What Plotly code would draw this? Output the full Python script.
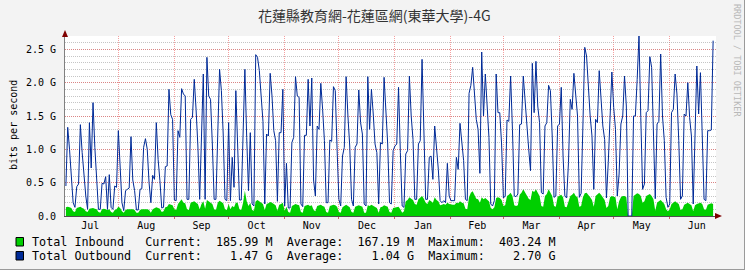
import pandas as pd
import plotly.graph_objects as go

# ---------------- data (daily averages, Gbit/s) ----------------
start_date = "2023-07-03"

outbound_gbps = [
    0.45, 1.33, 1.0, 0.6, 0.2, 0.13, 0.44, 0.48, 1.37,
    0.95, 0.6, 0.3, 0.1, 1.4, 0.72, 1.7, 1.03, 0.55, 0.1,
    0.1, 0.49, 0.48, 0.59, 0.1, 0.62, 0.13, 0.1, 0.45, 0.43,
    1.28, 0.8, 0.2, 0.08, 0.38, 0.4, 0.42, 1.19, 0.54, 0.38,
    0.09, 0.09, 0.4, 0.41, 1.03, 1.16, 1.0, 0.5, 0.2, 0.61,
    0.55, 1.4, 0.85, 0.53, 0.12, 0.13, 0.74, 0.75, 1.9, 1.52,
    1.45, 0.24, 0.23, 1.28, 1.18, 1.91, 1.83, 1.8, 0.25, 0.25,
    1.45, 1.48, 2.05, 1.6, 1.05, 0.25, 1.05, 2.13, 0.25, 2.38,
    1.8, 1.75, 1.08, 0.25, 0.25, 1.38, 2.2, 1.88, 1.23, 0.25,
    0.23, 1.4, 0.23, 0.88, 0.43, 1.88, 1.2, 0.24, 0.24, 1.45,
    2.2, 1.18, 0.38, 1.25, 0.18, 0.15, 2.42, 2.38, 2.18, 1.8,
    1.42, 0.18, 1.23, 1.2, 2.14, 1.8, 1.28, 1.13, 0.22, 1.25,
    1.25, 1.9, 0.15, 0.79, 0.12, 0.12, 1.1, 1.18, 2.09, 1.8,
    1.78, 0.18, 0.14, 1.21, 1.21, 2.05, 1.35, 2.07, 0.54, 0.3,
    1.35, 1.3, 1.99, 1.6, 1.13, 0.2, 0.2, 1.14, 1.12, 1.94,
    1.88, 1.0, 0.25, 0.15, 0.9, 1.03, 2.09, 1.5, 1.05, 0.25,
    0.15, 1.03, 1.08, 1.89, 1.4, 1.23, 0.18, 0.15, 2.09, 1.3,
    1.9, 1.53, 1.08, 0.95, 0.18, 1.1, 1.08, 2.08, 1.5, 1.08,
    0.2, 0.18, 0.98, 1.05, 1.08, 1.93, 0.95, 0.15, 0.13, 0.93,
    0.98, 2.1, 1.5, 1.15, 0.25, 0.25, 1.08, 1.13, 2.35, 1.4,
    0.25, 0.25, 0.88, 0.9, 0.55, 1.35, 1.03, 0.7, 0.23, 0.2,
    0.23, 0.2, 0.79, 0.3, 0.23, 0.23, 0.23, 0.88, 0.7, 1.39,
    1.08, 0.83, 0.25, 0.23, 1.84, 1.96, 2.23, 1.83, 1.45, 1.3,
    0.64, 2.46, 1.5, 2.13, 1.68, 1.18, 0.18, 0.15, 0.23, 2.13,
    1.55, 1.55, 1.08, 0.27, 0.3, 1.44, 1.42, 2.1, 1.3, 0.3,
    0.29, 0.33, 1.37, 1.38, 2.1, 1.7, 1.4, 1.0, 0.68, 2.29,
    1.55, 2.32, 1.65, 1.4, 0.35, 0.33, 1.35, 1.4, 1.96, 1.88,
    1.2, 0.28, 0.3, 1.35, 1.38, 1.93, 0.9, 0.3, 0.27, 0.8,
    1.75, 1.6, 2.14, 1.78, 1.5, 0.28, 0.34, 1.38, 2.53, 2.4,
    1.93, 1.5, 1.2, 0.4, 1.45, 1.4, 2.18, 1.8, 1.35, 1.15,
    0.27, 0.8, 1.4, 2.16, 1.63, 1.3, 0.3, 0.63, 1.38, 1.5,
    2.1, 1.65, 0.0, 0.0, 0.0, 1.5, 1.5, 2.05, 2.7, 1.48,
    0.4, 0.48, 1.55, 1.58, 2.39, 2.23, 1.0, 0.26, 1.38, 1.42,
    2.43, 1.5, 1.13, 0.28, 0.13, 0.18, 1.55, 1.6, 2.13, 1.83,
    1.13, 0.25, 0.3, 1.53, 1.5, 2.0, 1.48, 1.2, 0.18, 1.3,
    2.25, 1.53, 2.15, 1.2, 0.25, 0.23, 1.28, 1.28, 1.29, 2.63,
]

inbound_gbps = [
    0.13, 0.14, 0.13, 0.12, 0.07, 0.06, 0.12, 0.13, 0.14,
    0.12, 0.11, 0.07, 0.06, 0.11, 0.12, 0.12, 0.11, 0.10, 0.06,
    0.05, 0.10, 0.11, 0.10, 0.09, 0.10, 0.06, 0.05, 0.09, 0.10,
    0.14, 0.12, 0.07, 0.05, 0.09, 0.10, 0.10, 0.11, 0.10, 0.09,
    0.05, 0.05, 0.09, 0.10, 0.10, 0.11, 0.10, 0.09, 0.05, 0.10,
    0.12, 0.13, 0.12, 0.11, 0.06, 0.07, 0.13, 0.14, 0.18, 0.17,
    0.16, 0.10, 0.09, 0.18, 0.22, 0.25, 0.20, 0.19, 0.10, 0.09,
    0.20, 0.21, 0.22, 0.20, 0.18, 0.10, 0.18, 0.22, 0.11, 0.24,
    0.22, 0.20, 0.18, 0.10, 0.09, 0.20, 0.23, 0.21, 0.19, 0.10,
    0.09, 0.18, 0.10, 0.15, 0.13, 0.20, 0.20, 0.10, 0.09, 0.20,
    0.38, 0.22, 0.15, 0.20, 0.09, 0.08, 0.22, 0.24, 0.22, 0.20,
    0.18, 0.09, 0.18, 0.19, 0.21, 0.20, 0.18, 0.16, 0.08, 0.17,
    0.18, 0.20, 0.08, 0.14, 0.06, 0.05, 0.15, 0.16, 0.18, 0.17,
    0.16, 0.06, 0.05, 0.15, 0.16, 0.17, 0.15, 0.16, 0.09, 0.07,
    0.15, 0.16, 0.17, 0.15, 0.14, 0.06, 0.05, 0.15, 0.16, 0.17,
    0.16, 0.14, 0.06, 0.05, 0.13, 0.15, 0.17, 0.15, 0.13, 0.06,
    0.05, 0.14, 0.15, 0.16, 0.15, 0.14, 0.05, 0.05, 0.16, 0.15,
    0.17, 0.15, 0.14, 0.12, 0.05, 0.13, 0.14, 0.16, 0.15, 0.14,
    0.06, 0.05, 0.12, 0.13, 0.13, 0.14, 0.10, 0.05, 0.07, 0.22,
    0.24, 0.28, 0.26, 0.24, 0.18, 0.17, 0.25, 0.27, 0.30, 0.26,
    0.20, 0.18, 0.24, 0.22, 0.20, 0.28, 0.24, 0.22, 0.16, 0.17,
    0.18, 0.17, 0.20, 0.18, 0.17, 0.17, 0.17, 0.20, 0.19, 0.22,
    0.20, 0.19, 0.11, 0.10, 0.28, 0.35, 0.37, 0.30, 0.26, 0.25,
    0.20, 0.28, 0.25, 0.27, 0.25, 0.22, 0.12, 0.10, 0.13, 0.27,
    0.28, 0.27, 0.24, 0.15, 0.16, 0.30, 0.32, 0.35, 0.30, 0.16,
    0.15, 0.16, 0.32, 0.35, 0.40, 0.36, 0.30, 0.26, 0.24, 0.38,
    0.36, 0.40, 0.35, 0.30, 0.15, 0.14, 0.30, 0.33, 0.40, 0.35,
    0.30, 0.15, 0.14, 0.29, 0.30, 0.32, 0.28, 0.14, 0.13, 0.22,
    0.30, 0.32, 0.35, 0.30, 0.28, 0.14, 0.15, 0.28, 0.34, 0.35,
    0.32, 0.28, 0.24, 0.14, 0.30, 0.33, 0.35, 0.32, 0.28, 0.24,
    0.12, 0.15, 0.28, 0.30, 0.29, 0.28, 0.10, 0.22, 0.28, 0.30,
    0.30, 0.28, 0.0, 0.0, 0.0, 0.30, 0.32, 0.34, 0.33, 0.30,
    0.20, 0.22, 0.30, 0.32, 0.33, 0.30, 0.25, 0.08, 0.20, 0.22,
    0.24, 0.21, 0.18, 0.10, 0.07, 0.10, 0.18, 0.20, 0.22, 0.20,
    0.18, 0.09, 0.10, 0.17, 0.19, 0.20, 0.18, 0.16, 0.07, 0.16,
    0.18, 0.19, 0.20, 0.18, 0.10, 0.09, 0.17, 0.18, 0.19, 0.18,
]

y_tick_values = [0.0, 0.5, 1.0, 1.5, 2.0, 2.5]
y_tick_labels = ["0.0", "0.5 G", "1.0 G", "1.5 G", "2.0 G", "2.5 G"]
month_labels = ["Jul", "Aug", "Sep", "Oct", "Nov", "Dec",
                "Jan", "Feb", "Mar", "Apr", "May", "Jun"]

title_text = "花蓮縣教育網-花蓮區網(東華大學)-4G"
legend_rows = [
    ("Total Inbound", "185.99 M", "167.19 M", "403.24 M", "#00CF00"),
    ("Total Outbound", "1.47 G", "1.04 G", "2.70 G", "#002A97"),
]

# ---------------- figure ----------------
dates = pd.date_range(start_date, periods=len(outbound_gbps), freq="D")

W, H = 745, 270
L, R, T, B = 65, 29, 36, 54
PW, PH = W - L - R, H - T - B


def px(x):
    return (x - L) / PW


def py(y):
    return (H - B - y) / PH


fig = go.Figure()
fig.add_trace(go.Scatter(
    x=dates, y=inbound_gbps, mode="lines", fill="tozeroy",
    line=dict(width=0, color="#00CF00"), fillcolor="#00CF00",
    hoverinfo="skip", showlegend=False))
fig.add_trace(go.Scatter(
    x=dates, y=outbound_gbps, mode="lines",
    line=dict(width=1, color="#002A97"),
    hoverinfo="skip", showlegend=False))

month_starts = pd.date_range("2023-07-01", "2024-07-01", freq="MS")
mid_months = [s + (e - s) / 2 for s, e in zip(month_starts[:-1], month_starts[1:])]

x_range = [pd.Timestamp("2023-07-01") + pd.Timedelta(days=1.5),
           pd.Timestamp("2023-07-01") + pd.Timedelta(days=361.6)]

mono = "DejaVu Sans Mono"

fig.update_xaxes(
    type="date", range=x_range,
    tickmode="array", tickvals=mid_months, ticktext=month_labels,
    ticks="", showgrid=False, zeroline=False,
    tickfont=dict(family=mono, size=10, color="#000000"),
    showline=True, linecolor="#505050", linewidth=1,
    minor=dict(tickmode="array", tickvals=list(month_starts[1:-1]),
               showgrid=True, gridcolor="rgba(235,80,80,0.55)",
               griddash="1px,1px", gridwidth=1,
               ticks="outside", ticklen=2, tickcolor="rgba(200,60,60,0.8)"),
)
fig.update_yaxes(
    range=[0, 2.7], tickmode="array", tickvals=y_tick_values, ticktext=y_tick_labels,
    ticks="", showgrid=True, gridcolor="rgba(235,80,80,0.55)", griddash="1px,1px",
    gridwidth=1, zeroline=False,
    tickfont=dict(family=mono, size=10, color="#000000"),
    ticklabelstandoff=6,
    showline=True, linecolor="#808080", linewidth=1,
    minor=dict(dtick=0.1, tick0=0, showgrid=True,
               gridcolor="rgba(150,150,150,0.55)", griddash="1px,1px", gridwidth=1),
)

annotations = [
    dict(text=title_text, x=px(W / 2 + 2), y=py(15), xref="paper", yref="paper",
         showarrow=False, xanchor="center", yanchor="middle",
         font=dict(family="Noto Sans CJK TC", size=14, color="#333333")),
    dict(text="bits per second", x=px(13), y=py(125), xref="paper", yref="paper",
         showarrow=False, textangle=-90, xanchor="center", yanchor="middle",
         font=dict(family=mono, size=10, color="#000000")),
    dict(text="RRDTOOL / TOBI OETIKER", x=px(737), y=py(60), xref="paper", yref="paper",
         showarrow=False, textangle=90, xanchor="center", yanchor="middle",
         font=dict(family=mono, size=8.5, color="#B8B8B8")),
]

nb = "\u00a0"
shapes = []
row_y = [242, 256]
for (name, cur, avg, mx, col), yy in zip(legend_rows, row_y):
    line = (f"{name:<16}Current:{cur:>10}  Average:{avg:>10}  Maximum:{mx:>10}")
    annotations.append(dict(
        text=line.replace(" ", nb), x=px(30), y=py(yy), xref="paper", yref="paper",
        showarrow=False, xanchor="left", yanchor="middle",
        font=dict(family=mono, size=11.75, color="#000000")))
    shapes.append(dict(type="rect", xref="paper", yref="paper",
                       x0=px(16), x1=px(23.5), y0=py(yy + 4), y1=py(yy - 4.5),
                       fillcolor=col, line=dict(color="#000000", width=1)))

# axis arrows
shapes.append(dict(type="path", xref="paper", yref="paper",
                   path=f"M {px(65)} {py(30)} L {px(62)} {py(37)} L {px(68)} {py(37)} Z",
                   fillcolor="#7F0000", line=dict(width=0)))
shapes.append(dict(type="path", xref="paper", yref="paper",
                   path=f"M {px(722)} {py(216)} L {px(715)} {py(213)} L {px(715)} {py(219)} Z",
                   fillcolor="#7F0000", line=dict(width=0)))
# outer frame
shapes.append(dict(type="line", xref="paper", yref="paper",
                   x0=px(744.5), x1=px(744.5), y0=py(0), y1=py(270),
                   line=dict(color="#9A9A9A", width=1)))
shapes.append(dict(type="line", xref="paper", yref="paper",
                   x0=px(0), x1=px(745), y0=py(269.5), y1=py(269.5),
                   line=dict(color="#9A9A9A", width=1)))

fig.update_layout(
    width=W, height=H, margin=dict(l=L, r=R, t=T, b=B, pad=0),
    paper_bgcolor="#F3F3F3", plot_bgcolor="#FFFFFF",
    annotations=annotations, shapes=shapes, showlegend=False,
)

fig.write_html("out.html")
